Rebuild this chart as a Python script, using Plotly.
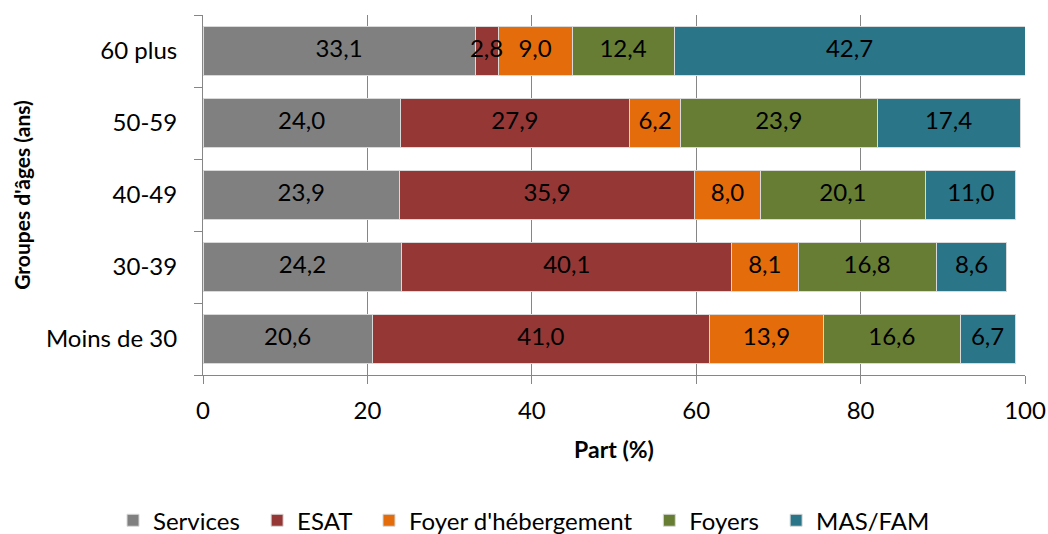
import plotly.graph_objects as go

categories = ["Moins de 30", "30-39", "40-49", "50-59", "60 plus"]
services = [20.6, 24.2, 23.9, 24.0, 33.1]
esat = [41.0, 40.1, 35.9, 27.9, 2.8]
foyer_heb = [13.9, 8.1, 8.0, 6.2, 9.0]
foyers = [16.6, 16.8, 20.1, 23.9, 12.4]
mas_fam = [6.7, 8.6, 11.0, 17.4, 42.7]
series_names = ["Services", "ESAT", "Foyer d'hébergement", "Foyers", "MAS/FAM"]
series_colors = ["#808080", "#953735", "#E46C0A", "#677D33", "#2B7588"]
series_values = [services, esat, foyer_heb, foyers, mas_fam]

FONT = "Lato"
FS = 24
fig = go.Figure()
for i, (name, vals, col) in enumerate(zip(series_names, series_values, series_colors)):
    pad = "\u00a0\u00a0" if i < len(series_names) - 1 else ""
    fig.add_trace(go.Bar(
        y=categories, x=vals, name=name + pad, orientation="h",
        marker=dict(color=col, line=dict(color="#D9D9D9", width=1)),
        hoverinfo="skip",
    ))

# value labels on top of all bars, centred in each segment
base = [0.0] * len(categories)
for vals in series_values:
    mids = [b + v / 2 for b, v in zip(base, vals)]
    fig.add_trace(go.Scatter(
        x=mids, y=categories, mode="text", customdata=vals,
        texttemplate="%{customdata:.1f}", textposition="middle center",
        textfont=dict(family=FONT, size=FS, color="black"),
        showlegend=False, hoverinfo="skip", cliponaxis=False,
    ))
    base = [b + v for b, v in zip(base, vals)]

fig.update_layout(
    barmode="stack", bargap=0.33,
    width=1048, height=534,
    margin=dict(l=203, r=23, t=15, b=159),
    paper_bgcolor="white", plot_bgcolor="white",
    separators=", ",
    font=dict(family=FONT, size=FS, color="black"),
    legend=dict(orientation="h", xref="container", x=0.5, xanchor="center",
                yref="container", y=0.025, yanchor="middle",
                font=dict(family=FONT, size=FS), traceorder="normal",
                itemwidth=30, tracegroupgap=0),
    xaxis=dict(range=[0, 100], tickvals=[0, 20, 40, 60, 80, 100],
               showgrid=True, gridcolor="#868686", gridwidth=1,
               showline=True, linecolor="#868686", linewidth=1,
               ticks="outside", ticklen=8, tickcolor="#868686",
               tickfont=dict(family=FONT, size=FS), ticklabelstandoff=6,
               title=dict(text="<b>Part (%)</b>", font=dict(family=FONT, size=23), standoff=19),
               zeroline=False, fixedrange=True, automargin=False),
    yaxis=dict(type="category", categoryorder="array", categoryarray=categories,
               showline=True, linecolor="#868686", linewidth=1,
               ticks="outside", ticklen=8, tickcolor="#868686", tickson="boundaries",
               tickfont=dict(family=FONT, size=FS), ticklabelstandoff=20,
               title=dict(text="<b>Groupes d'âges (ans)</b>", font=dict(family=FONT, size=21), standoff=9),
               showgrid=False, fixedrange=True, automargin=False),
)

fig.write_html("out.html", config={"displayModeBar": False},
               post_script="document.body.style.margin='0';")
